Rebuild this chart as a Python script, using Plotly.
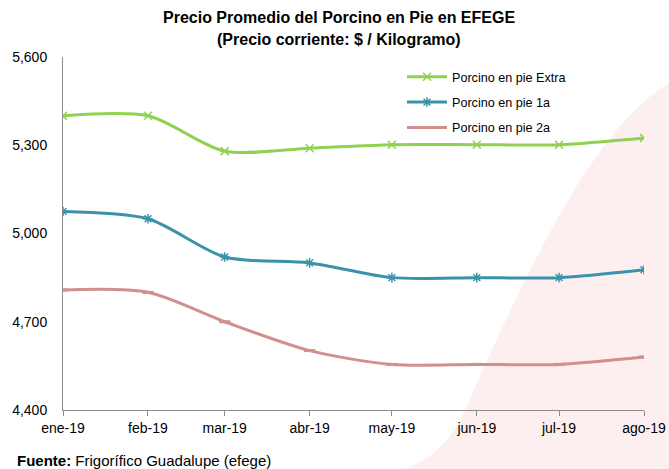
import plotly.graph_objects as go

months = ["2019-01-01", "2019-02-01", "2019-03-01", "2019-04-01",
          "2019-05-01", "2019-06-01", "2019-07-01", "2019-08-01"]
tick_labels = ["ene-19", "feb-19", "mar-19", "abr-19", "may-19", "jun-19", "jul-19", "ago-19"]
extra = [5400, 5400, 5280, 5290, 5302, 5302, 5302, 5325]
primera = [5075, 5050, 4920, 4900, 4850, 4850, 4850, 4877]
segunda = [4808, 4800, 4700, 4602, 4555, 4555, 4555, 4580]
names = ["Porcino en pie Extra", "Porcino en pie 1a", "Porcino en pie 2a"]
y_ticks = [4400, 4700, 5000, 5300, 5600]
title_lines = ["Precio Promedio del Porcino en Pie en EFEGE", "(Precio corriente: $ / Kilogramo)"]

W, H = 669, 469
L, R, T, B = 63, 25, 57, 59
pw, ph = W - L - R, H - T - B


def px(x):
    return (x - L) / pw


def py(y):
    return (H - B - y) / ph


fig = go.Figure()
fig.add_trace(go.Scatter(x=months, y=extra, name=names[0], mode="lines+markers", legendgroup="a",
                         line=dict(color="#8fd150", width=3, shape="spline", smoothing=0.8),
                         marker=dict(symbol="x-thin", size=8, line=dict(color="#8fd150", width=1.5))))
fig.add_trace(go.Scatter(x=months, y=primera, name=names[1], mode="lines+markers", legendgroup="b",
                         line=dict(color="#3b93ab", width=3, shape="spline", smoothing=0.8),
                         marker=dict(symbol="asterisk", size=8, line=dict(color="#3b93ab", width=1.5))))
fig.add_trace(go.Scatter(x=months, y=segunda, name=names[2], mode="lines+markers", legendgroup="c",
                         line=dict(color="#d38e8e", width=3, shape="spline", smoothing=0.8),
                         marker=dict(symbol="line-ew", size=8, line=dict(color="#d38e8e", width=3))))

# decorative pink wedge in the background
path = "M {} {}".format(px(669), py(83))
path += " C {} {}, {} {}, {} {}".format(px(600), py(125), px(540), py(240), px(465), py(410))
path += " Q {} {}, {} {}".format(px(445), py(455), px(405), py(469))
path += " L {} {} L {} {} Z".format(px(669), py(469), px(669), py(83))
fig.add_shape(type="path", xref="paper", yref="paper", path=path,
              fillcolor="#fdefef", line=dict(width=0), layer="below")

annotations = [
    dict(text="<b>" + title_lines[0] + "</b>", xref="paper", yref="paper",
         x=px(339), y=py(18), xanchor="center", yanchor="middle", showarrow=False,
         font=dict(size=16)),
    dict(text="<b>" + title_lines[1] + "</b>", xref="paper", yref="paper",
         x=px(339), y=py(39), xanchor="center", yanchor="middle", showarrow=False,
         font=dict(size=16)),
    dict(text="<b>Fuente:</b> Frigorífico Guadalupe (efege)",
         xref="paper", yref="paper", x=px(15), y=py(460),
         xanchor="left", yanchor="middle", showarrow=False,
         font=dict(size=15)),
]

fig.update_layout(
    width=W, height=H,
    margin=dict(l=L, r=R, t=T, b=B, autoexpand=False),
    paper_bgcolor="white", plot_bgcolor="rgba(0,0,0,0)",
    font=dict(family="Liberation Sans, Arial, sans-serif", size=13, color="black"),
    showlegend=True,
    legend=dict(x=px(402), y=py(62), xanchor="left", yanchor="top",
                bgcolor="rgba(0,0,0,0)", font=dict(size=12.6), tracegroupgap=6,
                traceorder="grouped", itemwidth=40),
    xaxis=dict(type="date", range=["2019-01-01", "2019-08-01"],
               tickvals=months, ticktext=tick_labels, automargin=False,
               showline=True, linecolor="#8c8c8c", linewidth=1,
               ticks="outside", ticklen=5, tickcolor="#8c8c8c",
               showgrid=False, zeroline=False, tickfont=dict(size=14)),
    yaxis=dict(range=[4400, 5600], tickvals=y_ticks, tickformat=",", automargin=False,
               showline=True, linecolor="#8c8c8c", linewidth=1,
               ticks="", showgrid=False, zeroline=False,
               ticklabelstandoff=12, tickfont=dict(size=14)),
    annotations=annotations,
)

fig.write_html("out.html", config={"displayModeBar": False},
               post_script="document.body.style.margin='0';")
